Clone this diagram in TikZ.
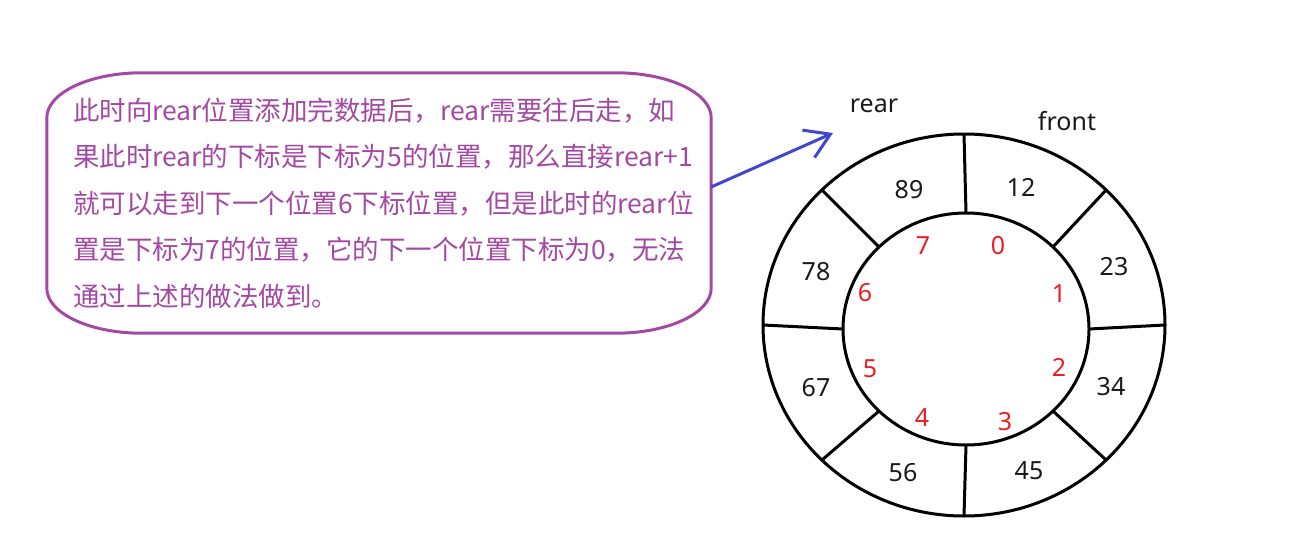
\documentclass[tikz,border=0pt]{standalone}
\usepackage{fontspec}
\setmainfont{Noto Sans}
\newfontfamily\cjk{Noto Sans CJK SC}
\usetikzlibrary{positioning, arrows.meta}

\definecolor{paintpurple}{HTML}{A349A4}
\definecolor{paintblue}{HTML}{3F48CC}
\definecolor{paintred}{HTML}{ED1C24}

\begin{document}
\begin{tikzpicture}[
            x=1pt, y=-1pt,
            msgbox/.style={minimum width=664pt, minimum height=260pt, text width=612pt, align=left, text=paintpurple, font=\cjk\fontsize{26.5}{46.5}\selectfont},
            msgline/.style={draw=paintpurple, line width=3pt},
            ring/.style={draw=black, line width=3pt},
            value/.style={font=\fontsize{25}{25}\selectfont, text=black!90},
            index/.style={font=\fontsize{25}{25}\selectfont, text=paintred},
            pointer/.style={font=\fontsize{25}{25}\selectfont, text=black!90},
            move_arrow/.style={-{Straight Barb[length=24pt, width=30pt, line width=3pt]}, draw=paintblue, line width=3pt}
            ]

            \path[use as bounding box] (0,0) rectangle (1312,546);

            % Message
            \node[msgbox] (msg) at (379,203) {此时向rear位置添加完数据后，rear需要往后走，如\\
                果此时rear的下标是下标为5的位置，那么直接rear+1\\
                就可以走到下一个位置6下标位置，但是此时的rear位\\
                置是下标为7的位置，它的下一个位置下标为0，无法\\
                通过上述的做法做到。};
            \draw[msgline] ([xshift=95pt]msg.north west) -- ([xshift=-95pt]msg.north east)
                arc[start angle=90, end angle=0, x radius=95pt, y radius=45pt]
                -- ([yshift=45pt]msg.south east)
                arc[start angle=0, end angle=-90, x radius=95pt, y radius=45pt]
                -- ([xshift=95pt]msg.south west)
                arc[start angle=-90, end angle=-180, x radius=95pt, y radius=45pt]
                -- ([yshift=-45pt]msg.north west)
                arc[start angle=180, end angle=90, x radius=95pt, y radius=45pt] -- cycle;

            % Ring
            \draw[ring] (964,325) ellipse [x radius=201pt, y radius=191pt];
            \draw[ring] (966,329) ellipse [x radius=123pt, y radius=116pt];
            \foreach \a in {0,45,...,315}
                \draw[ring] ({966+123*cos(\a)},{329-116*sin(\a)}) -- ({964+201*cos(\a)},{325-191*sin(\a)});

            % Values
            \node[value] (v0) at (1021,187) {12};
            \node[value] (v1) at (1114,267) {23};
            \node[value] (v2) at (1111,387) {34};
            \node[value] (v3) at (1029,471) {45};
            \node[value] (v4) at (903,473) {56};
            \node[value] (v5) at (816,388) {67};
            \node[value] (v6) at (816,272) {78};
            \node[value] (v7) at (909,190) {89};

            % Indices
            \node[index] (i0) at (998,246) {0};
            \node[index] (i1) at (1059,294) {1};
            \node[index] (i2) at (1059,367) {2};
            \node[index] (i3) at (1005,422) {3};
            \node[index] (i4) at (922,418) {4};
            \node[index] (i5) at (870,369) {5};
            \node[index] (i6) at (865,293) {6};
            \node[index] (i7) at (923,246) {7};

            % Pointers
            \node[pointer] (rear) at (874,106) {rear};
            \node[pointer] (front) at (1067,121) {front};

            \coordinate (tip) at (833,133);
            \draw[move_arrow] ([yshift=16pt]msg.east) -- (tip);

        \end{tikzpicture}
\end{document}
